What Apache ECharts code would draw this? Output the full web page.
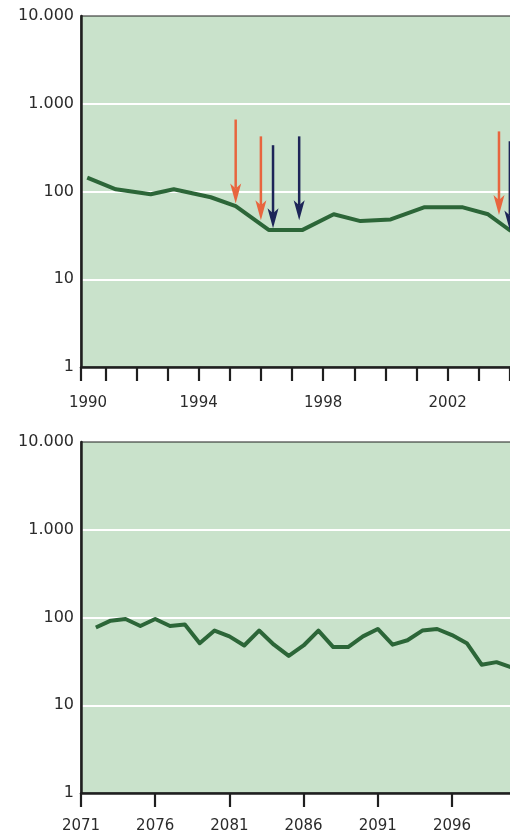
<!DOCTYPE html>
<html><head><meta charset="utf-8">
<script src="https://cdn.jsdelivr.net/npm/echarts@6/dist/echarts.min.js"></script>
<style>html,body{margin:0;padding:0;background:#fff}#c{width:510px;height:835px}</style>
</head><body><div id="c"></div>
<script>
// ---- data ----
const topYears = [1990.42, 1991.34, 1992.46, 1993.2, 1994.39, 1995.19, 1996.25, 1997.34, 1998.34, 1999.2, 2000.17, 2001.24, 2002.49, 2003.3, 2004.03];
const topValues = [144, 106, 93, 106, 86, 68, 36.5, 36.5, 55, 46, 48, 66, 66, 55, 35.5];
const arrowYears = [1995.19, 1996.0, 1996.39, 1997.23, 2003.65, 2004.0];
const arrowFrom = [661, 425, 337, 425, 484, 374];
const arrowTo = [73, 47, 38, 47, 54, 36];
const arrowKinds = ['orange', 'orange', 'navy', 'navy', 'orange', 'navy'];
const bottomYears = [2072, 2073, 2074, 2075, 2076, 2077, 2078, 2079, 2080, 2081, 2082, 2083, 2084, 2085, 2086, 2087, 2088, 2089, 2090, 2091, 2092, 2093, 2094, 2095, 2096, 2097, 2098, 2099, 2100];
const bottomValues = [77, 92, 96, 80, 96, 80, 83, 51, 71, 61, 48, 71, 49, 36.5, 48, 71, 46, 46, 61, 74, 49, 55, 71, 74, 63, 51, 29, 31, 27];
const topTickLabels = ['1990', '1994', '1998', '2002'];
const bottomTickLabels = ['2071', '2076', '2081', '2086', '2091', '2096'];
const yTickLabels = ['1', '10', '100', '1.000', '10.000'];

// ---- styles ----
const FONT = 'DejaVu Sans';
const TXT = '#2b2b2b';
const AXIS = '#1f1f1f';
const BG = '#c9e2cb';
const LINE = '#2c6638';
const arrowColors = { orange: '#e8653e', navy: '#1d2558' };
const topMin = 1990.22, topMax = 2005;
const botMin = 2071, botMax = 2102;

const topTicks = [topMin];
for (let y = 1991; y <= 2004; y++) topTicks.push(y);
const topLabelVals = topTickLabels.map(s => Math.max(Number(s), topMin));

function yAxisCfg(gi) {
  return {
    gridIndex: gi, type: 'log', logBase: 10, min: 1, max: 10000,
    axisLine: { show: true, lineStyle: { color: AXIS, width: 2.5 } },
    axisTick: { show: false },
    axisLabel: { margin: 7, color: TXT, fontFamily: FONT, fontSize: 16,
      formatter: v => yTickLabels[Math.round(Math.log10(v))] },
    splitLine: { show: true, showMinLine: false, showMaxLine: false, lineStyle: { color: '#ffffff', width: 2 } }
  };
}

function renderArrow(params, api) {
  const x = api.value(0);
  const p1 = api.coord([x, api.value(1)]);
  const p2 = api.coord([x, api.value(2)]);
  const color = arrowColors[arrowKinds[params.dataIndex]];
  const hw = 5.5, hh = 20, notch = 15;
  return { type: 'group', children: [
    { type: 'line', shape: { x1: p1[0], y1: p1[1], x2: p2[0], y2: p2[1] - notch }, style: { stroke: color, lineWidth: 2.5 } },
    { type: 'polygon', shape: { points: [[p2[0], p2[1]], [p2[0] - hw, p2[1] - hh], [p2[0], p2[1] - notch], [p2[0] + hw, p2[1] - hh]] }, style: { fill: color } }
  ] };
}

function topLabel(v) {
  const s = topTickLabels.find(t => Math.abs(Math.max(Number(t), topMin) - v) < 0.01) || '';
  return Number(s) < topMin ? '{first|' + s + '}' : s;
}

const chart = echarts.init(document.getElementById('c'), null, { renderer: 'canvas' });
chart.setOption({
  animation: false,
  backgroundColor: '#ffffff',
  grid: [
    { left: 81, top: 16, width: 460, height: 351, outerBoundsMode: 'none', containLabel: false, show: true, backgroundColor: BG, borderColor: AXIS, borderWidth: 1.2 },
    { left: 81, top: 442, width: 460, height: 351, outerBoundsMode: 'none', containLabel: false, show: true, backgroundColor: BG, borderColor: AXIS, borderWidth: 1.2 }
  ],
  xAxis: [
    { gridIndex: 0, type: 'value', min: topMin, max: topMax,
      axisLine: { show: true, lineStyle: { color: AXIS, width: 2.5 } },
      axisTick: { show: true, length: 14, lineStyle: { color: AXIS, width: 2.2 }, customValues: topTicks },
      axisLabel: { show: true, margin: 29, color: TXT, fontFamily: FONT, fontSize: 15, customValues: topLabelVals,
        formatter: topLabel,
        rich: { first: { color: TXT, fontFamily: FONT, fontSize: 15, padding: [0, 0, 0, 14] } } },
      splitLine: { show: false } },
    { gridIndex: 1, type: 'value', min: botMin, max: botMax, interval: 5,
      axisLine: { show: true, lineStyle: { color: AXIS, width: 2.5 } },
      axisTick: { show: true, length: 14, lineStyle: { color: AXIS, width: 2.2 } },
      axisLabel: { show: true, margin: 26, color: TXT, fontFamily: FONT, fontSize: 15,
        formatter: v => bottomTickLabels.find(s => Number(s) === v) || '' },
      splitLine: { show: false } }
  ],
  yAxis: [yAxisCfg(0), yAxisCfg(1)],
  series: [
    { type: 'line', xAxisIndex: 0, yAxisIndex: 0, data: topYears.map((y, i) => [y, topValues[i]]),
      showSymbol: false, symbol: 'none', lineStyle: { color: LINE, width: 4, join: 'round' }, z: 3 },
    { type: 'custom', xAxisIndex: 0, yAxisIndex: 0, renderItem: renderArrow,
      data: arrowYears.map((y, i) => [y, arrowFrom[i], arrowTo[i]]), encode: { x: 0, y: [1, 2] }, z: 4 },
    { type: 'line', xAxisIndex: 1, yAxisIndex: 1, data: bottomYears.map((y, i) => [y, bottomValues[i]]),
      showSymbol: false, symbol: 'none', lineStyle: { color: LINE, width: 4, join: 'round' }, z: 3 }
  ]
});
</script>
</body></html>
